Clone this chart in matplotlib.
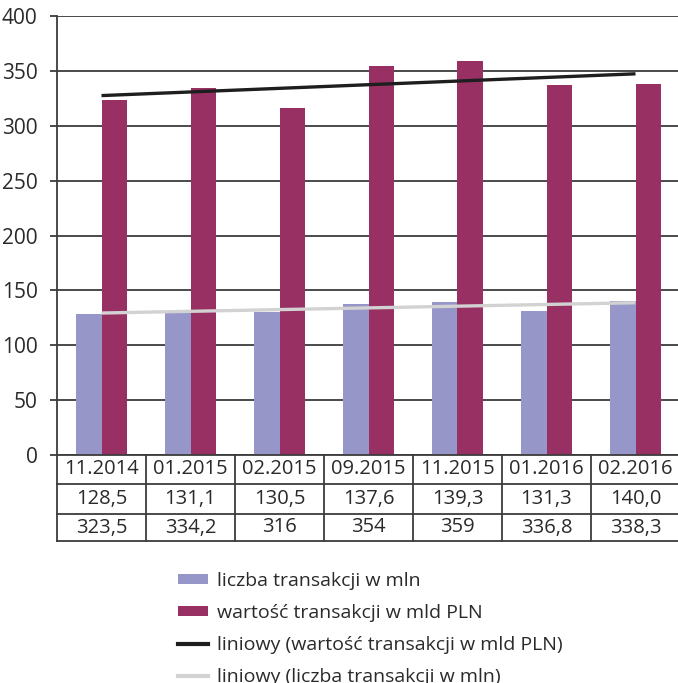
import matplotlib
matplotlib.use("Agg")
import matplotlib.pyplot as plt
import numpy as np
from matplotlib.patches import Patch
from matplotlib.lines import Line2D
import matplotlib.transforms as mtransforms

plt.rcParams['font.family'] = ['Open Sans', 'DejaVu Sans']

periods = ["11.2014", "01.2015", "02.2015", "09.2015", "11.2015", "01.2016", "02.2016"]
count_mln = [128.5, 131.1, 130.5, 137.6, 139.3, 131.3, 140.0]
value_bln = [323.5, 334.2, 316, 354, 359, 336.8, 338.3]
count_labels = ["128,5", "131,1", "130,5", "137,6", "139,3", "131,3", "140,0"]
value_labels = ["323,5", "334,2", "316", "354", "359", "336,8", "338,3"]
legend_labels = ["liczba transakcji w mln", "wartość transakcji w mld PLN",
                 "liniowy (wartość transakcji w mld PLN)", "liniowy (liczba transakcji w mln)"]

c_count = "#9696c8"
c_value = "#993064"
c_grid = "#3c3c3c"
c_text = "#2a2a2a"
fs = 14

W, H = 678, 683
fig = plt.figure(figsize=(W / 100, H / 100), dpi=100)
ax_l, ax_r, ax_t, ax_b = 57, 680, 16, 455
ax = fig.add_axes([ax_l / W, 1 - ax_b / H, (ax_r - ax_l) / W, (ax_b - ax_t) / H])

x = np.arange(len(periods))
bw = 0.29
ax.bar(x - bw / 2, count_mln, width=bw, color=c_count, zorder=2)
ax.bar(x + bw / 2, value_bln, width=bw, color=c_value, zorder=2)

# linear trend lines
for series, col in ((value_bln, "#1e1e1e"), (count_mln, "#d2d2d2")):
    k, b = np.polyfit(x + 1, series, 1)
    ax.plot(x, k * (x + 1) + b, color=col, lw=2.4, solid_capstyle="butt", zorder=3)

ax.set_xlim(-0.5, len(periods) - 0.5)
ax.set_ylim(0, 400)
ax.set_yticks(np.arange(0, 401, 50))
ax.yaxis.grid(True, color=c_grid, lw=1.3, zorder=0)
ax.set_axisbelow(True)
for s in ("top", "right"):
    ax.spines[s].set_visible(False)
ax.spines["left"].set_color(c_grid)
ax.spines["left"].set_linewidth(1.3)
ax.spines["bottom"].set_color(c_grid)
ax.spines["bottom"].set_linewidth(1.3)
ax.set_xticks([])
ax.tick_params(axis="y", length=5, width=1.3, color=c_grid, pad=9,
               labelsize=15, labelcolor=c_text)

# data table under the axis
trans = mtransforms.blended_transform_factory(ax.transData, ax.transAxes)
ah = ax_b - ax_t
rows_px = [0, 29, 59, 86]
rows = [-r / ah for r in rows_px]
line_kw = dict(color=c_grid, lw=1.3, transform=trans, clip_on=False)
for r in rows[1:]:
    ax.plot([-0.5, len(periods) - 0.5], [r, r], **line_kw)
for xv in np.arange(-0.5, len(periods) - 0.5, 1.0):
    ax.plot([xv, xv], [0, rows[-1]], **line_kw)
for i in range(len(periods)):
    for j, txt in enumerate((periods[i], count_labels[i], value_labels[i])):
        ym = (rows[j] + rows[j + 1]) / 2
        ax.text(i, ym, txt, transform=trans, ha="center", va="center",
                fontsize=14.5, color=c_text)

handles = [
    Patch(facecolor=c_count, edgecolor="none"),
    Patch(facecolor=c_value, edgecolor="none"),
    Line2D([], [], color="#1e1e1e", lw=3),
    Line2D([], [], color="#d2d2d2", lw=3),
]
fig.legend(handles, legend_labels, loc="upper left",
           bbox_to_anchor=(178 / W, 1 - 572 / H), frameon=False,
           fontsize=fs, labelcolor=c_text, handlelength=1.55, handleheight=0.45,
           handletextpad=0.45, labelspacing=0.72, borderaxespad=0, borderpad=0)

fig.savefig("out.png", dpi=100)
